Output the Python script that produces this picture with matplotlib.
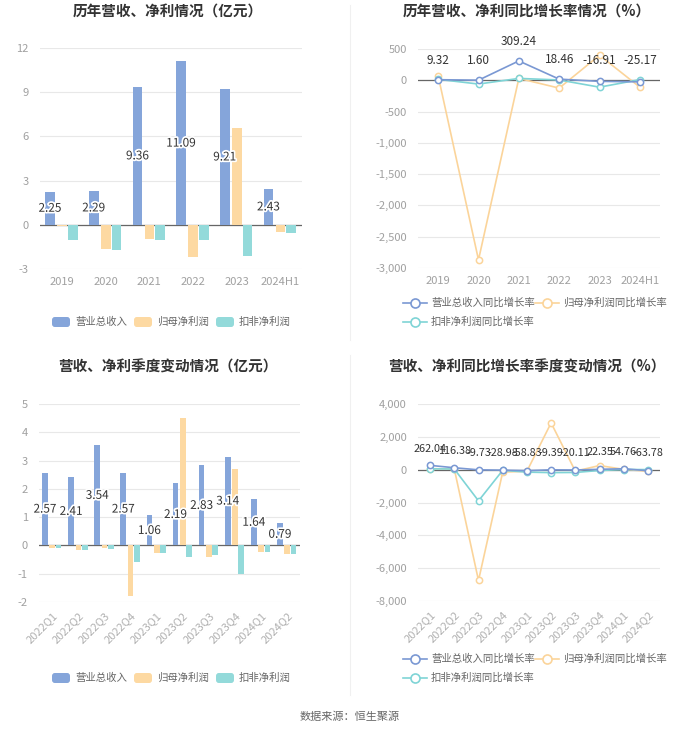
import matplotlib.pyplot as plt
import numpy as np
from matplotlib.patches import FancyBboxPatch
from matplotlib.lines import Line2D
import matplotlib.patheffects as pe

plt.rcParams['font.family'] = ['Noto Sans CJK SC', 'DejaVu Sans']
plt.rcParams['axes.unicode_minus'] = False

# annual data
years = ['2019', '2020', '2021', '2022', '2023', '2024H1']
rev_y = [2.25, 2.29, 9.36, 11.09, 9.21, 2.43]
net_y = [-0.05, -1.65, -0.95, -2.2, 6.55, -0.5]
ded_y = [-1.05, -1.7, -1.0, -1.0, -2.1, -0.55]

rev_g_y = [9.32, 1.60, 309.24, 18.46, -16.91, -25.17]
net_g_y = [70, -2870, 30, -125, 400, -110]
ded_g_y = [15, -60, 30, 5, -110, 10]

# quarterly data
quarters = ['2022Q1', '2022Q2', '2022Q3', '2022Q4', '2023Q1',
            '2023Q2', '2023Q3', '2023Q4', '2024Q1', '2024Q2']
rev_q = [2.57, 2.41, 3.54, 2.57, 1.06, 2.19, 2.83, 3.14, 1.64, 0.79]
net_q = [-0.1, -0.15, -0.1, -1.78, -0.25, 4.52, -0.4, 2.7, -0.22, -0.32]
ded_q = [-0.08, -0.15, -0.12, -0.6, -0.25, -0.42, -0.35, -1.02, -0.22, -0.32]

rev_g_q = [262.04, 116.38, -9.73, -28.98, -58.83, -9.39, -20.11, 22.35, 54.76, -63.78]
net_g_q = [60, 40, -6750, -150, -100, 2850, -90, 250, 20, -100]
ded_g_q = [50, 40, -1900, -40, -150, -180, -170, -50, 10, 5]

C_REV = '#85a5da'
C_NET = '#fdd9a2'
C_DED = '#93dada'
L_REV = '#7a98d3'
L_NET = '#fbd49a'
L_DED = '#7fd4d6'
GRID = '#e8e8e8'
TICK = '#a0a0a0'

W, H = 700, 734
fig = plt.figure(figsize=(7, 7.34), dpi=100)


def ax_px(x0, y0, x1, y1):
    return fig.add_axes([x0 / W, 1 - y1 / H, (x1 - x0) / W, (y1 - y0) / H])


def style(ax, ticks, ylim):
    ax.set_ylim(*ylim)
    ax.set_yticks(ticks)
    for s in ax.spines.values():
        s.set_visible(False)
    ax.grid(axis='y', color=GRID, lw=0.8)
    ax.set_axisbelow(True)
    ax.axhline(0, color='#666666', lw=0.9, zorder=1)
    ax.tick_params(axis='both', length=0, colors=TICK, labelsize=8)


def set_xcats(ax, cats, rot):
    x = np.arange(len(cats))
    ax.set_xlim(-0.5, len(cats) - 0.5)
    ax.set_xticks(x)
    if rot:
        ax.set_xticklabels(cats, rotation=45, ha='right', rotation_mode='anchor', color='#b0b0b0')
    else:
        ax.set_xticklabels(cats)
    ax.tick_params(axis='x', pad=6)
    ax.tick_params(axis='y', pad=8)


def bar_panel(ax, cats, rev, net, ded, ticks, ylim, rot, lblsize):
    x = np.arange(len(cats))
    w = 0.22
    ax.bar(x - 0.27, rev, w, color=C_REV, zorder=2)
    ax.bar(x + 0.01, net, w, color=C_NET, zorder=2)
    ax.bar(x + 0.25, ded, w, color=C_DED, zorder=2)
    for xi, v in zip(x, rev):
        ax.text(xi - 0.27, v / 2, '%.2f' % v, ha='center', va='center', fontsize=lblsize,
                color='#333333', zorder=3,
                path_effects=[pe.withStroke(linewidth=2.5, foreground='white')])
    style(ax, ticks, ylim)
    set_xcats(ax, cats, rot)


def line_panel(ax, cats, rev, net, ded, ticks, ylim, rot, lblsize):
    x = np.arange(len(cats))
    kw = dict(marker='o', ms=4.5, mfc='white', mew=1.1, lw=1.2)
    ax.plot(x, net, color=L_NET, zorder=2, **kw)
    ax.plot(x, ded, color=L_DED, zorder=3, **kw)
    ax.plot(x, rev, color=L_REV, zorder=4, **kw)
    off = (ylim[1] - ylim[0]) * 0.06
    for xi, v in zip(x, rev):
        ax.text(xi, max(v, 0) + off, '%.2f' % v, ha='center', va='bottom', fontsize=lblsize,
                color='#333333', zorder=5)
    style(ax, ticks, ylim)
    ax.set_yticklabels(['{:,}'.format(t) for t in ticks])
    set_xcats(ax, cats, rot)


def bar_legend(y):
    items = [('营业总收入', C_REV, 52), ('归母净利润', C_NET, 134), ('扣非净利润', C_DED, 216)]
    for name, c, x0 in items:
        fig.patches.append(FancyBboxPatch((x0 / W, 1 - (y + 5) / H), 18 / W, 10 / H,
                                          boxstyle='round,pad=0,rounding_size=0.004',
                                          transform=fig.transFigure, fc=c, ec='none'))
        fig.text((x0 + 23) / W, 1 - y / H, name, fontsize=7.5, color='#666666', va='center')


def line_legend(x_base, y1, y2):
    items = [('营业总收入同比增长率', L_REV, x_base, y1),
             ('归母净利润同比增长率', L_NET, x_base + 132, y1),
             ('扣非净利润同比增长率', L_DED, x_base, y2)]
    for name, c, x0, yy in items:
        fig.lines.append(Line2D([x0 / W, (x0 + 24) / W], [1 - yy / H] * 2, transform=fig.transFigure,
                                color=c, lw=1.2, zorder=5))
        fig.lines.append(Line2D([(x0 + 12) / W], [1 - yy / H], transform=fig.transFigure,
                                color=c, marker='o', ms=6.5, mfc='white', mew=1.2, zorder=6))
        fig.text((x0 + 28) / W, 1 - yy / H, name, fontsize=7.5, color='#666666', va='center')


# panel 1
ax1 = ax_px(40, 48, 302, 269)
bar_panel(ax1, years, rev_y, net_y, ded_y, [-3, 0, 3, 6, 9, 12], (-3, 12), False, 8.5)
fig.text(168 / W, 1 - 12 / H, '历年营收、净利情况（亿元）', ha='center', va='center',
         fontsize=10.5, fontweight='bold', color='#333333')
bar_legend(322)

# panel 2
ax2 = ax_px(418, 49, 660, 268)
line_panel(ax2, years, rev_g_y, net_g_y, ded_g_y, [-3000, -2500, -2000, -1500, -1000, -500, 0, 500],
           (-3000, 500), False, 8.5)
fig.text(527 / W, 1 - 12 / H, '历年营收、净利同比增长率情况（%）', ha='center', va='center',
         fontsize=10.5, fontweight='bold', color='#333333')
line_legend(403, 303, 322)

# panel 3
ax3 = ax_px(39, 404, 300, 602)
bar_panel(ax3, quarters, rev_q, net_q, ded_q, [-2, -1, 0, 1, 2, 3, 4, 5], (-2, 5), True, 8.5)
fig.text(168 / W, 1 - 367 / H, '营收、净利季度变动情况（亿元）', ha='center', va='center',
         fontsize=10.5, fontweight='bold', color='#333333')
bar_legend(678)

# panel 4
ax4 = ax_px(418, 404, 660, 601)
line_panel(ax4, quarters, rev_g_q, net_g_q, ded_g_q, [-8000, -6000, -4000, -2000, 0, 2000, 4000],
           (-8000, 4000), True, 7.8)
fig.text(527 / W, 1 - 367 / H, '营收、净利同比增长率季度变动情况（%）', ha='center', va='center',
         fontsize=10.5, fontweight='bold', color='#333333')
line_legend(403, 659, 678)

# divider lines
fig.lines.append(Line2D([350 / W, 350 / W], [1 - 5 / H, 1 - 340 / H], transform=fig.transFigure,
                        color='#f0f0f0', lw=0.8))
fig.lines.append(Line2D([350 / W, 350 / W], [1 - 355 / H, 1 - 695 / H], transform=fig.transFigure,
                        color='#f0f0f0', lw=0.8))

fig.text(350 / W, 1 - 717 / H, '数据来源：恒生聚源', ha='center', va='center', fontsize=8, color='#666666')

fig.savefig('out.png', dpi=100, facecolor='white')
